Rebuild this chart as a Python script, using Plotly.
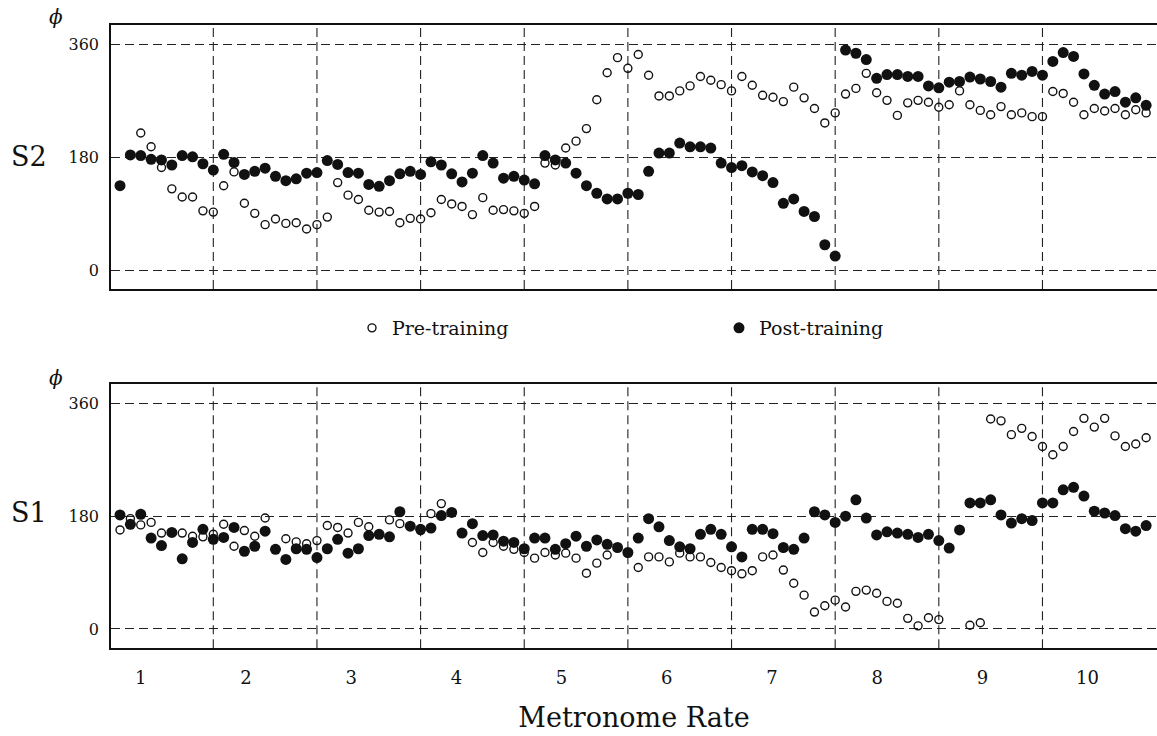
import plotly.graph_objects as go

# ---------------- data (phase, degrees) ----------------
rate_labels = ["1", "2", "3", "4", "5", "6", "7", "8", "9", "10"]
trial = list(range(100))

s2_post = [135, 184, 183, 177, 176, 168, 183, 181, 170, 160,
           185, 172, 153, 158, 163, 150, 143, 146, 155, 156,
           175, 169, 156, 155, 137, 134, 143, 154, 158, 153,
           173, 168, 154, 141, 155, 183, 171, 147, 150, 144,
           138, 183, 176, 171, 155, 135, 123, 114, 114, 123,
           121, 158, 187, 187, 203, 197, 197, 195, 171, 164,
           167, 157, 151, 140, 107, 114, 94, 86, 41, 23,
           351, 346, 336, 306, 312, 312, 309, 309, 294, 291,
           300, 301, 308, 305, 301, 292, 314, 311, 317, 311,
           333, 347, 341, 313, 295, 281, 285, 268, 275, 263]

s2_pre = [None, None, 219, 197, 164, 130, 117, 117, 95, 93,
          135, 157, 107, 91, 73, 82, 75, 76, 66, 73,
          85, 140, 120, 113, 96, 93, 94, 76, 83, 82,
          92, 113, 106, 102, 89, 116, 96, 97, 95, 91,
          102, 171, 168, 195, 206, 226, 272, 315, 339, 322,
          344, 311, 278, 278, 286, 294, 309, 303, 296, 286,
          309, 295, 279, 276, 269, 292, 275, 258, 235, 251,
          281, 290, 314, 283, 271, 247, 267, 271, 268, 260,
          264, 286, 264, 255, 248, 261, 248, 251, 245, 245,
          285, 282, 268, 248, 258, 254, 258, 248, 256, 251]

s1_post = [182, 167, 183, 145, 133, 154, 112, 138, 159, 143,
           146, 162, 124, 132, 156, 127, 111, 128, 127, 114,
           128, 143, 121, 128, 149, 151, 147, 187, 164, 159,
           161, 181, 186, 153, 168, 149, 150, 140, 138, 128,
           145, 145, 127, 136, 148, 132, 142, 135, 130, 122,
           145, 176, 163, 141, 131, 128, 151, 159, 151, 131,
           115, 159, 159, 152, 130, 127, 145, 187, 182, 170,
           180, 206, 177, 150, 155, 153, 151, 146, 151, 141,
           129, 158, 201, 201, 206, 182, 169, 176, 173, 201,
           201, 222, 226, 212, 188, 185, 181, 160, 156, 165]

s1_pre = [158, 176, 166, 170, 153, None, 153, 148, 147, 151,
          167, 132, 157, 148, 177, None, 144, 139, 136, 141,
          165, 162, 153, 170, 163, None, 174, 168, None, 157,
          184, 200, None, None, 138, 122, 138, 132, 127, 122,
          113, 122, 118, 121, 113, 89, 105, 118, None, 121,
          98, 115, 115, 107, 121, 115, 115, 106, 98, 93,
          88, 93, 115, 118, 94, 73, 54, 27, 37, 46,
          35, 60, 62, 57, 44, 41, 17, 5, 18, 15,
          None, None, 6, 10, 335, 332, 310, 320, 307, 291,
          278, 291, 315, 336, 322, 336, 308, 291, 295, 305]

phase_ticks = [0, 180, 360]

# ---------------- layout helpers ----------------
W, H = 1157, 736
SERIF = "DejaVu Serif"
INK = "#111111"
DASH = "9px,5px"

block_edges = [10 * k + 9 for k in range(9)]
rate_pos = [2 + 10.15 * k for k in range(len(rate_labels))]


def px_x(p):
    return p / W


def px_y(p):
    return 1 - p / H


pre_marker = dict(symbol="circle-open", size=8, color=INK, line=dict(width=1.4, color=INK))
post_marker = dict(symbol="circle", size=11, color=INK)

fig = go.Figure()
fig.add_trace(go.Scatter(x=trial, y=s2_pre, mode="markers", marker=pre_marker,
                         name="Pre-training", xaxis="x", yaxis="y"))
fig.add_trace(go.Scatter(x=trial, y=s2_post, mode="markers", marker=post_marker,
                         name="Post-training", xaxis="x", yaxis="y"))
fig.add_trace(go.Scatter(x=trial, y=s1_pre, mode="markers", marker=pre_marker,
                         name="Pre-training", xaxis="x2", yaxis="y2", showlegend=False))
fig.add_trace(go.Scatter(x=trial, y=s1_post, mode="markers", marker=post_marker,
                         name="Post-training", xaxis="x2", yaxis="y2", showlegend=False))

xrange = [-0.87, 100.05]
common_x = dict(range=xrange, domain=[px_x(111), 1], showgrid=False, zeroline=False,
                showline=True, mirror=True, linecolor=INK, linewidth=1.6)
common_y = dict(tickvals=phase_ticks, ticktext=[str(v) for v in phase_ticks],
                showgrid=True, gridcolor="#222222", gridwidth=1.1, griddash=DASH,
                zeroline=False, showline=True, linecolor=INK, linewidth=1.6,
                ticks="outside", ticklen=7, tickcolor="rgba(0,0,0,0)",
                tickfont=dict(family=SERIF, size=16, color=INK))

fig.update_layout(
    width=W, height=H,
    margin=dict(l=0, r=0, t=0, b=0),
    paper_bgcolor="white", plot_bgcolor="white",
    xaxis=dict(**common_x, anchor="y", showticklabels=False, ticks=""),
    yaxis=dict(**common_y, domain=[px_y(289), px_y(25)], range=[-29.5, 391], anchor="x"),
    xaxis2=dict(**common_x, anchor="y2", tickvals=rate_pos, ticktext=rate_labels,
                ticks="outside", ticklen=12, tickcolor="rgba(0,0,0,0)",
                tickfont=dict(family=SERIF, size=18, color=INK),
                title=dict(text="Metronome Rate", font=dict(family=SERIF, size=27, color=INK),
                           standoff=21)),
    yaxis2=dict(**common_y, domain=[px_y(648.3), px_y(384.3)], range=[-30.8, 390.3], anchor="x2"),
    showlegend=True,
    legend=dict(orientation="h", x=px_x(352), xanchor="left", y=px_y(328), yanchor="middle",
                font=dict(family=SERIF, size=19, color=INK), bgcolor="rgba(0,0,0,0)",
                entrywidth=322, entrywidthmode="pixels", itemsizing="trace"),
)

shapes = []
for yref_dom, xref in (("y domain", "x"), ("y2 domain", "x2")):
    for b in block_edges:
        shapes.append(dict(type="line", xref=xref, yref=yref_dom, x0=b, x1=b, y0=0, y1=1,
                           layer="below", line=dict(color="#222222", width=1.1, dash=DASH)))
fig.update_layout(shapes=shapes)

annotations = [
    dict(text="<i>ϕ</i>", x=px_x(56), y=px_y(17), font=dict(family=SERIF, size=20, color=INK)),
    dict(text="<i>ϕ</i>", x=px_x(56), y=px_y(378), font=dict(family=SERIF, size=20, color=INK)),
    dict(text="S2", x=px_x(29), y=px_y(157), font=dict(family=SERIF, size=27, color=INK)),
    dict(text="S1", x=px_x(29), y=px_y(512), font=dict(family=SERIF, size=27, color=INK)),
]
for a in annotations:
    a.update(xref="paper", yref="paper", showarrow=False, xanchor="center", yanchor="middle")
fig.update_layout(annotations=annotations)

fig.write_html("out.html")
